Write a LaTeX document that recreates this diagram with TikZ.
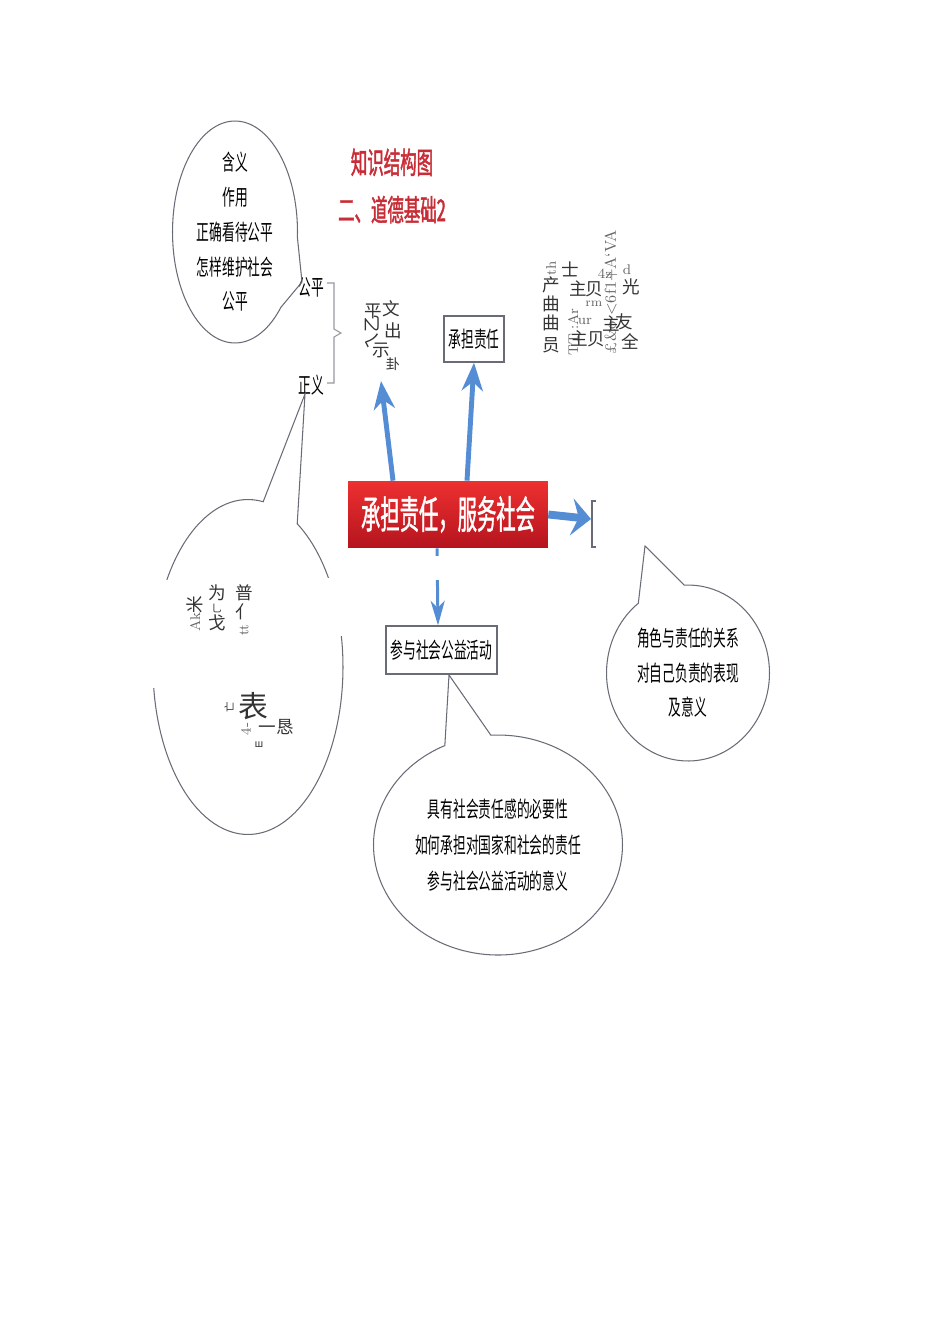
\documentclass[tikz,border=0pt]{standalone}
\usepackage{fontspec}
\usepackage{tikz}
\usetikzlibrary{
	arrows.meta,
	shapes.callouts,
	positioning
}
\newfontfamily\cjk[FakeStretch=0.58]{Noto Sans CJK SC}
\newfontfamily\cjktitle[FakeStretch=0.55,FakeBold=1.5]{Noto Sans CJK SC}
\newfontfamily\cjkmain[FakeStretch=0.5,FakeBold=1]{Noto Sans CJK SC}
\newfontfamily\cjkraw{Noto Sans CJK SC}
\definecolor{arrowblue}{RGB}{84,141,212}
\definecolor{titlered}{RGB}{200,45,55}
\definecolor{linegray}{RGB}{105,108,118}
\definecolor{boxtop}{RGB}{238,48,48}
\definecolor{boxbottom}{RGB}{180,20,30}

\begin{document}
\begin{tikzpicture}[x=0.02cm, y=-0.02cm,
    bubble/.style={ellipse callout, draw=linegray, line width=0.6pt, inner sep=0pt, align=center},
    box/.style={draw=linegray, line width=0.7pt, rectangle, fill=white, inner sep=0pt, font=\cjk\fontsize{12.5}{15}\selectfont},
    lbl/.style={inner sep=0pt, font=\cjk\fontsize{12.5}{15}\selectfont},
    junk/.style={inner sep=0pt, text=black!80, font=\cjkraw\fontsize{10}{10}\selectfont},
    junkl/.style={inner sep=0pt, text=black!60, font=\fontsize{8}{8}\selectfont},
    uparrow/.style={draw=arrowblue, line width=2.8pt, -{Stealth[length=16pt, width=12pt, inset=5pt]}}]
        \useasboundingbox (0,0) rectangle (950,1318);

        % title
        \node[text=titlered, align=center, font=\cjktitle\fontsize{17}{27}\selectfont] (title) at (392,186) {知识结构图\\二、道德基础2};

        % 公平 / 正义 with brace
        \node[lbl] (gp) at (311,287) {公平};
        \node[lbl] (zy) at (311,385) {正义};
        \draw[linegray!70, line width=0.6pt] (327,283) -- (334,283) -- (334,329) -- (341,333) -- (334,337) -- (334,383) -- (327,383);

        % bubbles
        \node[bubble, minimum width=2.5cm, minimum height=4.44cm, inner ysep=-4pt, callout absolute pointer={(302,282)}, callout pointer arc=40, font=\cjk\fontsize{12.5}{19.8}\selectfont] (fair) at (235,232) {含义\\作用\\正确看待公平\\怎样维护社会\\公平};
        \node[bubble, minimum width=3.8cm, minimum height=6.7cm, callout absolute pointer={(305,394)}, callout pointer arc=22] (just) at (248,667) {};
        \node[bubble, minimum width=3.26cm, minimum height=3.52cm, callout absolute pointer={(645,546)}, callout pointer arc=35, font=\cjk\fontsize{12.5}{19.6}\selectfont] (role) at (688,673) {角色与责任的关系\\对自己负责的表现\\及意义};
        \node[bubble, minimum width=4.98cm, minimum height=4.4cm, callout absolute pointer={(449,675)}, callout pointer arc=22, font=\cjk\fontsize{12.5}{20.4}\selectfont] (sense) at (498,845) {具有社会责任感的必要性\\如何承担对国家和社会的责任\\参与社会公益活动的意义};
        \fill[white] (148,580) rectangle (178,688); % gaps in the left bubble
        \fill[white] (318,578) rectangle (350,636);

        % boxes
        \node[minimum width=4cm, minimum height=1.34cm, inner sep=0pt, top color=boxtop, bottom color=boxbottom, text=white, font=\cjkmain\fontsize{22}{22}\selectfont] (main) at (448,514.5) {承担责任，服务社会};
        \node[box, minimum width=1.2cm, minimum height=0.92cm] (duty) at (474,339) {承担责任};
        \node[box, minimum width=2.22cm, minimum height=0.96cm] (serve) at (441.5,650) {参与社会公益活动};

        % garbled text, top
        \node[junk] (pw) at (373,311) {平};
        \node[junk] at (391,309) {文};
        \node[junk] at (393,331) {出};
        \node[junk, rotate=90] at (372,332) {ㄟ乙};
        \node[junk] at (381,350) {示};
        \node[junk, font=\cjkraw\fontsize{8}{8}\selectfont] at (393,364) {卦};
        \coordinate (pwend) at (381,381);

        % garbled text, right
        \node[junkl, rotate=90] at (551,268) {th};
        \node[junk] at (551,285) {产};
        \node[junk] at (551,304) {曲};
        \node[junk] at (551,323) {曲};
        \node[junk] at (551,345) {员};
        \node[junkl, rotate=90] at (573,332) {TT.:Ar};
        \node[junk] at (570,269) {士};
        \node[junk] at (578,289) {主};
        \node[junk] at (594,289) {贝};
        \node[junkl] at (605,274) {4z};
        \node[junkl, rotate=90, font=\fontsize{9}{9}\selectfont] at (611,292) {£\&o <6f1+A`VA};
        \node[junkl] at (627,270) {d};
        \node[junk] at (631,287) {光};
        \node[junkl, font=\fontsize{7}{7}\selectfont] at (594,304) {rm};
        \node[junkl] at (585,321) {ur};
        \node[junk] at (579,339) {主};
        \node[junk] at (596,339) {贝};
        \node[junk] at (611,324) {主};
        \node[junk] at (624,322) {友};
        \node[junk] at (630,341) {全};

        % garbled text, left bubble
        \node[junkl, rotate=90] at (195,622) {Ak};
        \node[junk, rotate=90] at (195,605) {米};
        \node[junk] at (217,593) {为};
        \node[junk, font=\cjkraw\fontsize{6}{6}\selectfont] at (217,608) {乚};
        \node[junk] at (217,623) {戈};
        \node[junk] at (244,593) {普};
        \node[junk] at (244,612) {亻};
        \node[junkl, rotate=90] at (244,630) {tt};
        \node[junk, font=\cjkraw\fontsize{17}{17}\selectfont] at (253,706) {表};
        \node[junk, rotate=90, font=\cjkraw\fontsize{6}{6}\selectfont] at (229,707) {亡};
        \node[junk] at (276,727) {一恳};
        \node[junkl, rotate=90] at (246,729) {4-};
        \node[junk, font=\cjkraw\fontsize{6}{6}\selectfont] at (259,745) {ш};

        % arrows
        \coordinate (brk) at (591,519);
        \draw[linegray, line width=0.6pt] (596,501) -- (592,501) -- (592,547) -- (596,547);
        \draw[uparrow] ([xshift=-1.1cm]main.north) -- (pwend);
        \draw[uparrow] ([xshift=0.38cm]main.north) -- (duty.south);
        \draw[draw=arrowblue, line width=4.5pt, -{Stealth[length=11pt, width=21pt, inset=4pt]}] (main.east) -- (brk);
        \draw[draw=arrowblue, line width=1.7pt, -{Stealth[length=14pt, width=8pt, inset=4pt]}] ([xshift=-0.22cm]main.south) -- ([xshift=-0.07cm]serve.north);
        \fill[white] (428,556) rectangle (448,580); % gap in the down arrow
    \end{tikzpicture}
\end{document}
